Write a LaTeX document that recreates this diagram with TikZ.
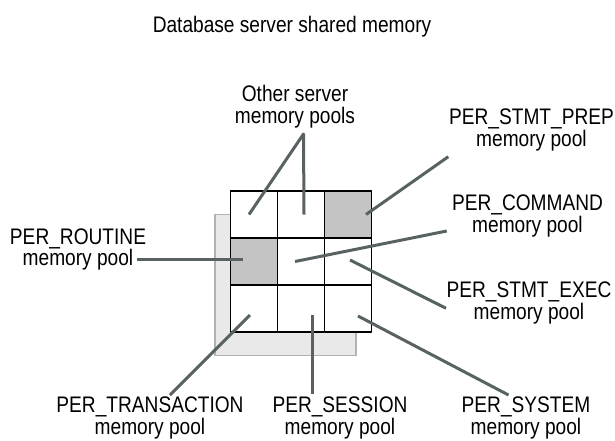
\documentclass[tikz,border=0pt]{standalone}
\usepackage{fontspec}
\setmainfont{Liberation Sans}[FakeStretch=0.85]
\usetikzlibrary{positioning}
\definecolor{poolline}{RGB}{88,98,98}
\definecolor{poolgray}{RGB}{196,196,196}
\definecolor{shadowgray}{RGB}{233,233,233}
\definecolor{shadowedge}{RGB}{178,178,178}

\begin{document}
\begin{tikzpicture}[x=1pt, y=-1pt, line join=round,
    cell/.style={draw=black, line width=1.2pt, minimum size=47pt, inner sep=0pt},
    lbl/.style={font=\fontsize{22.5}{21.7}\selectfont, align=center, anchor=north, inner sep=0pt},
    link/.style={draw=poolline, line width=3pt}]
    \useasboundingbox (0,0) rectangle (615,440);

    % Tiêu đề
    \node[lbl] (title) at (292,16) {Database server shared memory};

    % Khối bóng phía sau lưới
    \draw[draw=shadowedge, fill=shadowgray, line width=1.3pt] (215,214.3) rectangle (356,355.7);

    % Lưới 3x3 các vùng nhớ
    \foreach \r/\c/\f in {0/0/white, 0/1/white, 0/2/poolgray,
                          1/0/poolgray, 1/1/white, 1/2/white,
                          2/0/white, 2/1/white, 2/2/white}
        \node[cell, fill=\f] (c\r\c) at ({254+47*\c},{214.5+47*\r}) {};

    % Nhãn
    \node[lbl] (other) at (295,85) {Other server\\memory pools};
    \node[lbl] (prep) at (531.5,108.5) {PER\_STMT\_PREP\\memory pool};
    \node[lbl] (command) at (527.5,195) {PER\_COMMAND\\memory pool};
    \node[lbl] (exec) at (529,281.7) {PER\_STMT\_EXEC\\memory pool};
    \node[lbl] (routine) at (78,228.3) {PER\_ROUTINE\\memory pool};
    \node[lbl] (transaction) at (150,397) {PER\_TRANSACTION\\memory pool};
    \node[lbl] (session) at (340,396.7) {PER\_SESSION\\memory pool};
    \node[lbl] (system) at (526,396.7) {PER\_SYSTEM\\memory pool};

    % Điểm đầu trong các ô
    \coordinate (in-otherA) at ([xshift=-5pt]c00.center);
    \coordinate (in-otherB) at ([xshift=3pt]c01.center);
    \coordinate (in-prep) at ([xshift=18pt]c02.center);
    \coordinate (in-command) at ([xshift=-6pt]c11.center);
    \coordinate (in-exec) at ([xshift=2pt, yshift=1.5pt]c12.center);
    \coordinate (in-routine) at ([xshift=-11pt, yshift=2.5pt]c10.center);
    \coordinate (in-transaction) at ([xshift=-4pt, yshift=-6.5pt]c20.center);
    \coordinate (in-session) at ([xshift=11pt, yshift=-6.5pt]c21.center);
    \coordinate (in-system) at ([xshift=10pt, yshift=-7.5pt]c22.center);

    % Điểm cuối cạnh nhãn
    \coordinate (apex) at (303.5,134);
    \coordinate (out-prep) at (448.3,156.7);
    \coordinate (out-command) at (446.7,231);
    \coordinate (out-exec) at (446,308.3);
    \coordinate (out-routine) at (136.7,259);
    \coordinate (out-transaction) at (170,395);
    \coordinate (out-session) at (312,394);
    \coordinate (out-system) at (508.5,395);

    % Các đường nối
    \draw[link] (in-otherA) -- (apex) -- (in-otherB);
    \draw[link] (in-prep) -- (out-prep);
    \draw[link] (in-command) -- (out-command);
    \draw[link] (in-exec) -- (out-exec);
    \draw[link] (in-routine) -- (out-routine);
    \draw[link] (in-transaction) -- (out-transaction);
    \draw[link] (in-session) -- (out-session);
    \draw[link] (in-system) -- (out-system);
\end{tikzpicture}
\end{document}
